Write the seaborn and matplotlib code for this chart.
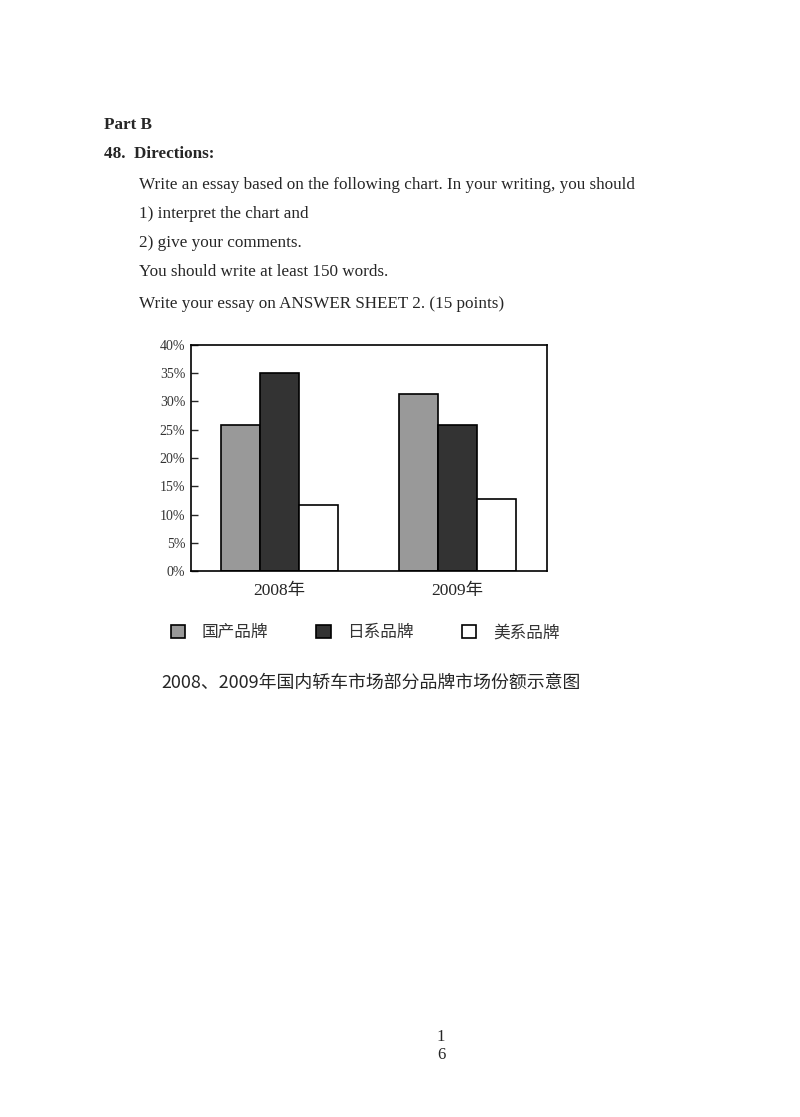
import pandas as pd
import matplotlib
matplotlib.use('Agg')
import matplotlib.pyplot as plt
import seaborn as sns

# chart data
years = ['2008年', '2009年']
brands = ['国产品牌', '日系品牌', '美系品牌']
domestic = [25.8, 31.4]
japanese = [35.0, 25.8]
american = [11.6, 12.7]
y_ticks = [0, 5, 10, 15, 20, 25, 30, 35, 40]

rows = []
for i, yr in enumerate(years):
    rows.append({'year': yr, 'brand': brands[0], 'share': domestic[i]})
    rows.append({'year': yr, 'brand': brands[1], 'share': japanese[i]})
    rows.append({'year': yr, 'brand': brands[2], 'share': american[i]})
df = pd.DataFrame(rows)

sns.set_style('white')
plt.rcParams['font.family'] = ['Liberation Serif', 'Noto Sans CJK SC', 'DejaVu Sans']

W, H = 800, 1117
fig = plt.figure(figsize=(W / 100, H / 100), dpi=100)
fig.patch.set_facecolor('white')


def px(x, y):
    # page pixel -> figure fraction
    return x / W, 1 - y / H


# header text of the exam page
fig.text(*px(104, 125), 'Part B', fontsize=12.3, fontweight='bold', va='center')
fig.text(*px(104, 154), '48.  Directions:', fontsize=12.3, fontweight='bold', va='center')
body = [
    'Write an essay based on the following chart. In your writing, you should',
    '1) interpret the chart and',
    '2) give your comments.',
    'You should write at least 150 words.',
    'Write your essay on ANSWER SHEET 2. (15 points)',
]
for line, yy in zip(body, [185, 214, 243, 272, 304]):
    fig.text(*px(139, yy), line, fontsize=12.3, va='center')

# the chart
ax = fig.add_axes([190.7 / W, 1 - 571 / H, 356 / W, 226 / H])
palette = {'国产品牌': '#999999', '日系品牌': '#333333', '美系品牌': '#ffffff'}
sns.barplot(data=df, x='year', y='share', hue='brand', palette=palette,
            width=0.66, edgecolor='black', linewidth=1.2, saturation=1,
            ax=ax)

ax.set_xlim(-0.5, 1.5)
ax.set_ylim(0, 40)
ax.set_yticks(y_ticks)
ax.set_yticklabels([f'{t}%' for t in y_ticks], fontsize=10, color='#333333')
ax.tick_params(axis='y', direction='in', length=5, width=1, left=True, pad=4)
ax.tick_params(axis='x', length=0, labelsize=12.5, pad=9)
ax.set_xlabel('')
ax.set_ylabel('')
for sp in ax.spines.values():
    sp.set_visible(True)
    sp.set_color('black')
    sp.set_linewidth(1.2)

handles, labels = ax.get_legend_handles_labels()
ax.get_legend().remove()
fig.legend(handles, labels, loc='center', bbox_to_anchor=px(365, 633),
           ncol=3, frameon=False, fontsize=12, handlelength=0.85,
           handleheight=0.85, handletextpad=1.0, columnspacing=2.9,
           labelcolor='#333333')

fig.text(*px(371, 683), '2008、2009年国内轿车市场部分品牌市场份额示意图',
         fontsize=12.9, ha='center', va='center',
         family=['Noto Sans CJK SC', 'DejaVu Sans'])

# page number
fig.text(*px(441, 1037), '1', fontsize=12, ha='center', va='center')
fig.text(*px(441, 1055), '6', fontsize=12, ha='center', va='center')

fig.savefig('out.png', dpi=100, facecolor='white')
